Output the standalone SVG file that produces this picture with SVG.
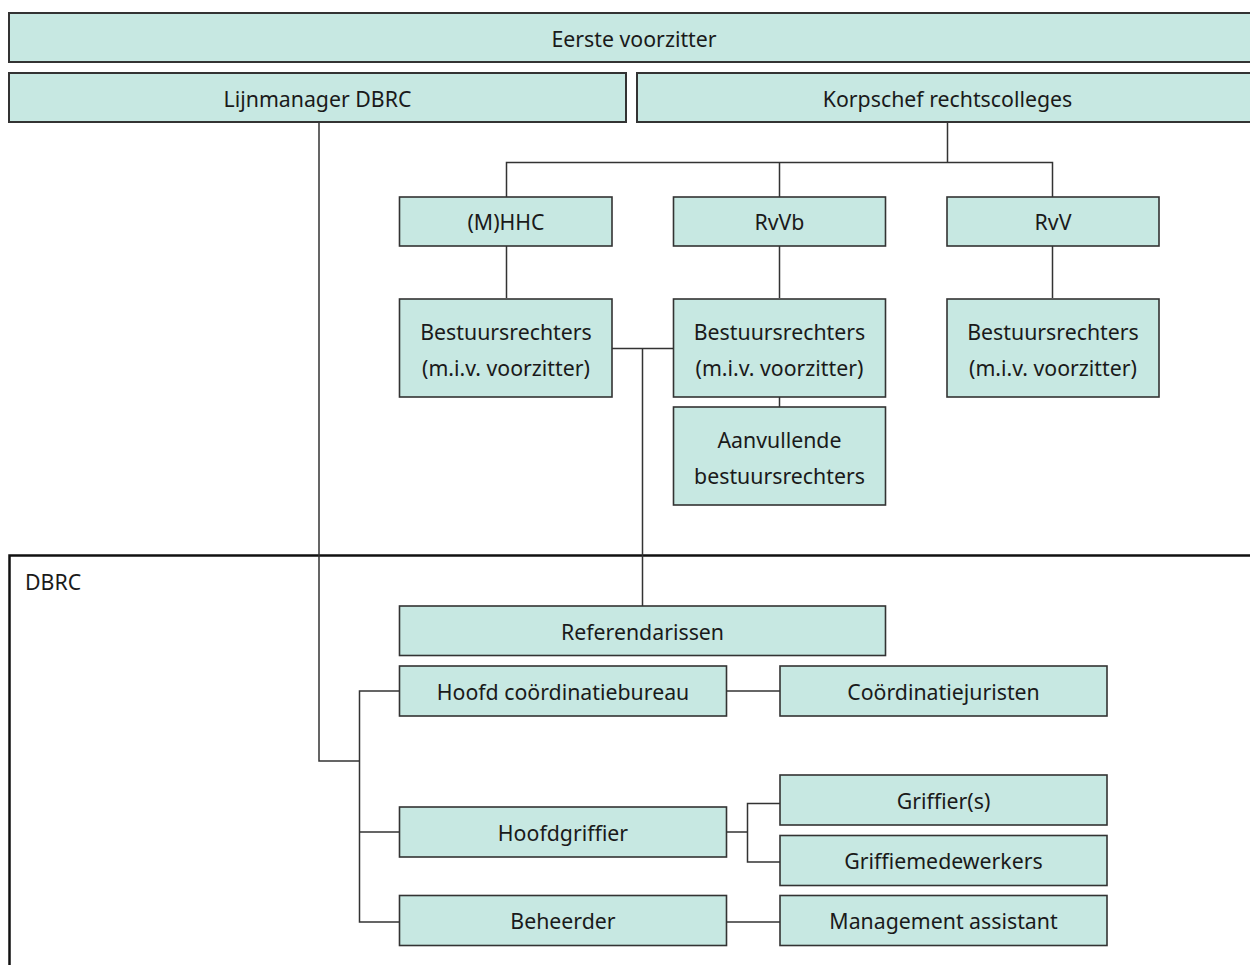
<svg xmlns="http://www.w3.org/2000/svg" width="1250" height="965" viewBox="0 0 1250 965">
<style>
.box{fill:#c7e8e2;stroke:#333;stroke-width:1.6}
.top{stroke-width:2}
.t{font-family:"Noto Sans","Open Sans",sans-serif;font-size:21.3px;fill:#1a1a1a;text-anchor:middle}
.lbl{font-family:"Noto Sans","Open Sans",sans-serif;font-size:21.3px;fill:#1a1a1a}
.c{fill:none;stroke:#333;stroke-width:1.5}
.cont{fill:none;stroke:#111;stroke-width:2.5}
</style>
<rect width="1250" height="965" fill="#fff"/>
<g id="dbrc-container">
<rect class="cont" x="9.5" y="555.5" width="1260" height="430"/>
<text class="lbl" x="25" y="589.5">DBRC</text>
</g>
<g id="connectors">
<path class="c" d="M319,122 V761 H359.5"/>
<path class="c" d="M399,691 H359.5 V922 H399 M359.5,832 H399"/>
<path class="c" d="M947.5,122 V162.5 M506.5,197 V162.5 H1052.5 V197 M779.5,162.5 V197"/>
<path class="c" d="M506.5,246 V298 M779.5,246 V298 M1052.5,246 V298"/>
<path class="c" d="M779.5,397 V407"/>
<path class="c" d="M612,348.5 H673 M642.5,348.5 V606"/>
<path class="c" d="M726,691 H780"/>
<path class="c" d="M726,832 H747.5 M780,803.5 H747.5 V862 H780"/>
<path class="c" d="M726,922 H780"/>
</g>
<g id="eerste-voorzitter">
<rect class="box top" x="9" y="13" width="1250" height="49"/>
<text class="t" x="634" y="46.5">Eerste voorzitter</text>
</g>
<g id="lijnmanager">
<rect class="box top" x="9" y="73" width="617" height="49"/>
<text class="t" x="317.5" y="106.5">Lijnmanager DBRC</text>
</g>
<g id="korpschef">
<rect class="box top" x="637" y="73" width="622" height="49"/>
<text class="t" x="947.5" y="106.5">Korpschef rechtscolleges</text>
</g>
<g id="mhhc">
<rect class="box" x="399.5" y="197" width="212.5" height="49"/>
<text class="t" x="506" y="229.5">(M)HHC</text>
</g>
<g id="rvvb">
<rect class="box" x="673.5" y="197" width="212" height="49"/>
<text class="t" x="779.5" y="229.5">RvVb</text>
</g>
<g id="rvv">
<rect class="box" x="947" y="197" width="212" height="49"/>
<text class="t" x="1053" y="229.5">RvV</text>
</g>
<g id="br-mhhc">
<rect class="box" x="399.5" y="299" width="212.5" height="98"/>
<text class="t" x="506" y="339.5">Bestuursrechters</text>
<text class="t" x="506" y="375.5">(m.i.v. voorzitter)</text>
</g>
<g id="br-rvvb">
<rect class="box" x="673.5" y="299" width="212" height="98"/>
<text class="t" x="779.5" y="339.5">Bestuursrechters</text>
<text class="t" x="779.5" y="375.5">(m.i.v. voorzitter)</text>
</g>
<g id="br-rvv">
<rect class="box" x="947" y="299" width="212" height="98"/>
<text class="t" x="1053" y="339.5">Bestuursrechters</text>
<text class="t" x="1053" y="375.5">(m.i.v. voorzitter)</text>
</g>
<g id="aanvullende">
<rect class="box" x="673.5" y="407" width="212" height="98"/>
<text class="t" x="779.5" y="447.5">Aanvullende</text>
<text class="t" x="779.5" y="483.5">bestuursrechters</text>
</g>
<g id="referendarissen">
<rect class="box" x="399.5" y="606" width="486" height="49.5"/>
<text class="t" x="642.5" y="639.5">Referendarissen</text>
</g>
<g id="hoofd-coordinatiebureau">
<rect class="box" x="399.5" y="666" width="327" height="50"/>
<text class="t" x="563" y="699.5">Hoofd coördinatiebureau</text>
</g>
<g id="coordinatiejuristen">
<rect class="box" x="780" y="666" width="327" height="50"/>
<text class="t" x="943.5" y="699.5">Coördinatiejuristen</text>
</g>
<g id="hoofdgriffier">
<rect class="box" x="399.5" y="807" width="327" height="50"/>
<text class="t" x="563" y="840.5">Hoofdgriffier</text>
</g>
<g id="griffiers">
<rect class="box" x="780" y="775" width="327" height="50"/>
<text class="t" x="943.5" y="808.5">Griffier(s)</text>
</g>
<g id="griffiemedewerkers">
<rect class="box" x="780" y="835.5" width="327" height="50"/>
<text class="t" x="943.5" y="869">Griffiemedewerkers</text>
</g>
<g id="beheerder">
<rect class="box" x="399.5" y="895.5" width="327" height="50"/>
<text class="t" x="563" y="929">Beheerder</text>
</g>
<g id="management-assistant">
<rect class="box" x="780" y="895.5" width="327" height="50"/>
<text class="t" x="943.5" y="929">Management assistant</text>
</g>
</svg>
